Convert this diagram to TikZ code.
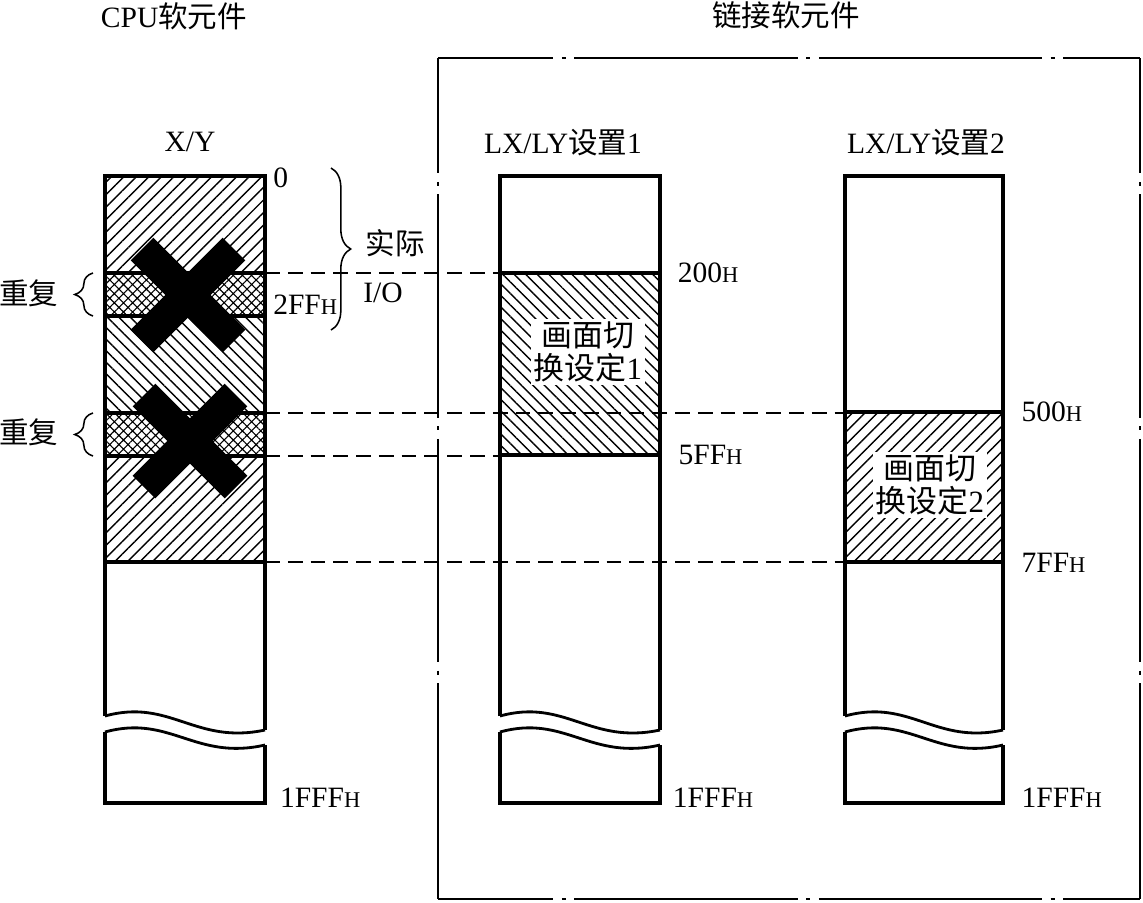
\documentclass[tikz,border=0pt]{standalone}
\usepackage{fontspec}
\setmainfont{Liberation Serif}
\newfontfamily\cjk{Noto Sans CJK SC}
\usetikzlibrary{patterns.meta, decorations.pathreplacing, positioning}

\newcommand{\lbl}{\fontsize{21}{25}\selectfont}
\newcommand{\hsub}{{\fontsize{16}{18}\selectfont H}}

\tikzset{
  colline/.style={line width=2.8pt, line join=miter},
  brkline/.style={line width=2pt},
  secline/.style={line width=2.8pt},
  guide/.style={line width=1pt, dash pattern=on 10.5pt off 5.7pt},
  frameline/.style={line width=1.1pt, dash pattern=on 158.8pt off 6pt on 3pt off 6pt, dash phase=76.8pt},
  hatchR/.style={pattern={Lines[angle=45, distance=6.3pt, line width=1pt]}},
  hatchL/.style={pattern={Lines[angle=-45, distance=5.8pt, line width=1pt]}},
  gridfill/.style={pattern={Hatch[angle=45, distance=4.6pt, line width=0.8pt]}},
  ttl/.style={inner sep=0pt, font=\lbl},
  addr/.style={inner sep=0pt, font=\lbl},
  areatxt/.style={fill=white, inner sep=2pt, align=center, font=\fontsize{22}{23}\selectfont},
  xbar/.style={line width=22.7pt, black},
  brc/.style={decorate, decoration={brace, amplitude=#1}, line width=1.1pt},
}

%% column with wavy break, #1 = left x, #2 = right x
\newcommand{\memcol}[2]{%
  \draw[colline] (#1,716) -- (#1,176) -- (#2,176) -- (#2,730);
  \draw[brkline] (#1,716) .. controls (#1+65,698) and (#1+90,745) .. (#2,730);
  \draw[colline] (#2,745) -- (#2,803) -- (#1,803) -- (#1,732);
  \draw[brkline] (#1,732) .. controls (#1+65,714) and (#1+90,761) .. (#2,745);
}

\begin{document}
\begin{tikzpicture}[x=0.025cm, y=-0.025cm]
  \useasboundingbox (0,0) rectangle (1143,902);

  %% SECTION FILLS
  \fill[hatchR]   (105,176) rectangle (265,273);
  \fill[gridfill] (105,273) rectangle (265,316);
  \fill[hatchL]   (105,316) rectangle (265,413);
  \fill[gridfill] (105,413) rectangle (265,456);
  \fill[hatchR]   (105,456) rectangle (265,562);
  \fill[hatchL]   (500,273) rectangle (660,455);
  \fill[hatchR]   (845,412) rectangle (1003,562);

  %% SECTION BORDERS
  \foreach \y in {273,316,413,456,562} \draw[secline] (105,\y) -- (265,\y);
  \foreach \y in {273,455} \draw[secline] (500,\y) -- (660,\y);
  \foreach \y in {412,562} \draw[secline] (845,\y) -- (1003,\y);

  %% COLUMNS
  \memcol{105}{265}
  \memcol{500}{660}
  \memcol{845}{1003}

  %% INVALID RANGES (crosses)
  \coordinate (cross1) at (188,295);
  \coordinate (cross2) at (190,441);
  \foreach \c in {cross1,cross2} {
    \draw[xbar] ([shift={(-46,-46)}]\c) -- ([shift={(46,46)}]\c);
    \draw[xbar] ([shift={(-46,46)}]\c) -- ([shift={(46,-46)}]\c);
  }

  %% GUIDE LINES
  \coordinate (xy-200)  at (265,273);
  \coordinate (xy-500)  at (265,413);
  \coordinate (xy-600)  at (265,456);
  \coordinate (xy-800)  at (265,562);
  \coordinate (ly1-200) at (500,273);
  \coordinate (ly1-600) at (500,456);
  \coordinate (ly2-500) at (845,413);
  \coordinate (ly2-800) at (845,562);
  \draw[guide] (xy-200) -- (ly1-200);
  \draw[guide] (xy-500) -- (ly2-500);
  \draw[guide] (xy-600) -- (ly1-600);
  \draw[guide] (xy-800) -- (ly2-800);

  %% LINK FRAME
  \coordinate (fTL) at (438,58);
  \coordinate (fTR) at (1140,58);
  \coordinate (fBL) at (438,899);
  \coordinate (fBR) at (1140,899);
  \draw[frameline] (fTL) -- (fTR);
  \draw[frameline] (fBL) -- (fBR);
  \draw[frameline] (fTL) -- (fBL);
  \draw[frameline] (fTR) -- (fBR);

  %% TITLES
  \node[ttl] (cpu)  at (174,16)  {CPU{\cjk 软元件}};
  \node[ttl] (link) at (786,15)  {{\cjk 链接软元件}};
  \node[ttl] (xy)   at (190,142) {X/Y};
  \node[ttl] (ly1)  at (563,143) {LX/LY{\cjk 设置}1};
  \node[ttl] (ly2)  at (926,143) {LX/LY{\cjk 设置}2};

  %% AREA TEXTS
  \node[areatxt] (area1) at (588,352) {{\cjk 画面切}\\{\cjk 换设定}1};
  \node[areatxt] (area2) at (930,485) {{\cjk 画面切}\\{\cjk 换设定}2};

  %% ADDRESSES
  \coordinate (xy-0)    at (265,178);
  \coordinate (xy-2FF)  at (265,305);
  \coordinate (xy-end)  at (265,798);
  \coordinate (ly1-r200) at (660,273);
  \coordinate (ly1-r600) at (660,455);
  \coordinate (ly1-end)  at (660,798);
  \coordinate (ly2-r500) at (1003,412);
  \coordinate (ly2-r800) at (1003,563);
  \coordinate (ly2-end)  at (1003,798);
  \node[addr, right=5.7pt of xy-0]      (a0)    {0};
  \node[addr, right=5.7pt of xy-2FF]    (a2FF)  {2FF\hsub};
  \node[addr, right=10.5pt of xy-end]   (aend1) {1FFF\hsub};
  \node[addr, right=12.5pt of ly1-r200] (a200)  {200\hsub};
  \node[addr, right=13pt of ly1-r600]   (a5FF)  {5FF\hsub};
  \node[addr, right=9pt of ly1-end]     (aend2) {1FFF\hsub};
  \node[addr, right=13pt of ly2-r500]   (a500)  {500\hsub};
  \node[addr, right=13pt of ly2-r800]   (a7FF)  {7FF\hsub};
  \node[addr, right=13pt of ly2-end]    (aend3) {1FFF\hsub};

  %% BRACES
  \draw[brc=14pt] (331,168) -- (331,330);
  \draw[brc=13pt] (93,316) -- (93,273);
  \draw[brc=13pt] (93,456) -- (93,413);
  \node[ttl] (real) at (395,243) {{\cjk 实际}};
  \node[ttl] (io)   at (383,293) {I/O};
  \node[ttl] (dup1) at (29,293)  {{\cjk 重复}};
  \node[ttl] (dup2) at (29,432)  {{\cjk 重复}};

\end{tikzpicture}
\end{document}
